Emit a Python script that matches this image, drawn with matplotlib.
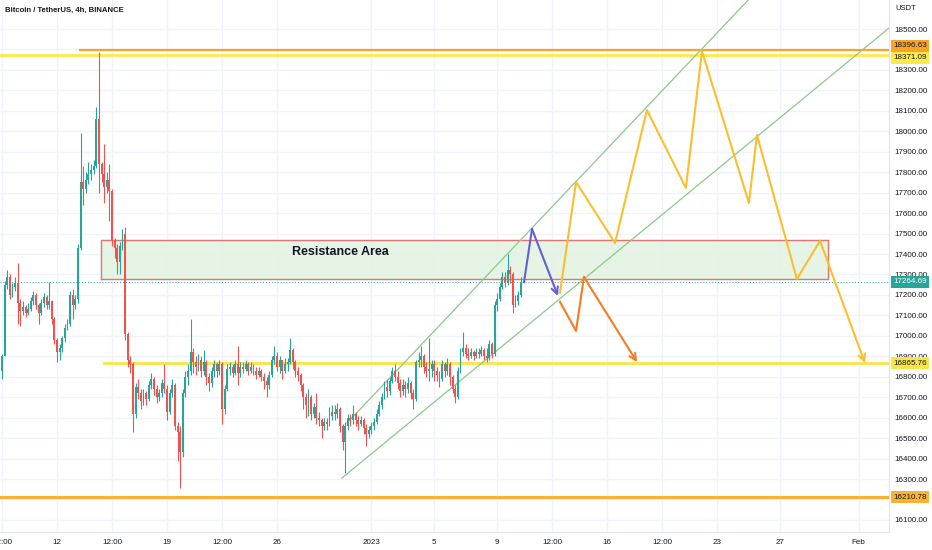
import numpy as np
import matplotlib.pyplot as plt
from matplotlib.transforms import blended_transform_factory

plt.rcParams['font.family'] = ['Liberation Sans', 'DejaVu Sans']

# ================= DATA ================= #
# time axis in days since 2022-12-01 00:00, one candle every 4h
FIRST_CANDLE = 7.5          # Dec 8 12:00
CANDLE_STEP = 4 / 24

first_open = 16830
closes = [16900, 17250, 17290, 17200, 17240, 17260, 17160, 17120, 17140, 17110,
          17130, 17170, 17200, 17150, 17110, 17160, 17190, 17150, 17170, 17080,
          16980, 16920, 16940, 16990, 17040, 17060, 17200, 17150, 17180, 17430,
          17750, 17720, 17760, 17790, 17810, 17830, 18060, 17840, 17790, 17730,
          17760, 17710, 17470, 17430, 17360, 17440, 17500, 17010, 16880, 16860,
          16620, 16750, 16720, 16680, 16720, 16690, 16760, 16790, 16740, 16700,
          16720, 16770, 16740, 16630, 16720, 16760, 16560, 16530, 16430, 16720,
          16800, 16830, 16920, 16870, 16850, 16880, 16830, 16870, 16800, 16770,
          16830, 16860, 16830, 16860, 16640, 16740, 16840, 16850, 16820, 16860,
          16820, 16850, 16840, 16860, 16830, 16850, 16830, 16810, 16830, 16800,
          16780, 16760, 16810, 16880, 16900, 16850, 16880, 16830, 16860, 16870,
          16930, 16870, 16830, 16810, 16760, 16700, 16660, 16700, 16620, 16650,
          16600, 16590, 16560, 16580, 16570, 16610, 16630, 16620, 16640, 16560,
          16480, 16560, 16600, 16590, 16620, 16590, 16570, 16590, 16550, 16520,
          16540, 16560, 16580, 16620, 16660, 16700, 16750, 16730, 16780, 16830,
          16800, 16770, 16730, 16760, 16740, 16770, 16720, 16690, 16870, 16880,
          16900, 16850, 16830, 16840, 16860, 16830, 16810, 16790, 16860, 16830,
          16860, 16800, 16740, 16700, 16830, 16920, 16940, 16910, 16900, 16920,
          16900, 16920, 16910, 16930, 16900, 16890, 16960, 16910, 17150, 17180,
          17240, 17290, 17260, 17320, 17300, 17150, 17170, 17200, 17265]
highs = [16910, 17270, 17320, 17300, 17260, 17290, 17355, 17180, 17170, 17150,
         17160, 17190, 17220, 17210, 17160, 17180, 17210, 17200, 17265, 17175,
         17090, 16990, 16960, 17000, 17060, 17080, 17220, 17230, 17200, 17450,
         17990, 17830, 17800, 17850, 17840, 17860, 18120, 18390, 17850, 17940,
         17800, 17840, 17720, 17480, 17450, 17460, 17520, 17530, 17020, 16900,
         16870, 16770, 16790, 16740, 16740, 16730, 16780, 16820, 16800, 16760,
         16740, 16790, 16860, 16760, 16740, 16790, 16770, 16580, 16560, 16740,
         16830, 16860, 17080, 16940, 16900, 16910, 16900, 16930, 16880, 16820,
         16850, 16880, 16870, 16880, 16870, 16760, 16860, 16870, 16860, 16880,
         16950, 16870, 16870, 16880, 16870, 16870, 16860, 16850, 16850, 16840,
         16820, 16800, 16830, 16900, 16950, 16920, 16900, 16880, 16890, 16890,
         16990, 16940, 16880, 16850, 16820, 16770, 16720, 16740, 16710, 16670,
         16720, 16630, 16600, 16600, 16600, 16650, 16660, 16660, 16670, 16650,
         16570, 16580, 16620, 16620, 16660, 16630, 16610, 16610, 16600, 16570,
         16560, 16580, 16600, 16640, 16680, 16720, 16780, 16790, 16800, 16850,
         16860, 16830, 16790, 16790, 16780, 16800, 16780, 16740, 16880, 16920,
         16950, 16910, 16870, 16990, 16880, 16880, 16850, 16830, 16880, 16870,
         16890, 16870, 16810, 16760, 16850, 16940, 17020, 16960, 16940, 16940,
         16930, 16940, 16940, 16950, 16940, 16940, 16980, 16970, 17170, 17210,
         17260, 17310, 17310, 17400, 17340, 17310, 17200, 17220, 17290]
lows = [16790, 16900, 17230, 17180, 17190, 17220, 17060, 17050, 17100, 17090,
        17100, 17120, 17150, 17130, 17060, 17100, 17140, 17130, 17130, 17060,
        16960, 16870, 16880, 16920, 16970, 17030, 17050, 17080, 17130, 17160,
        17420, 17640, 17700, 17740, 17760, 17790, 17820, 17700, 17750, 17650,
        17700, 17560, 17440, 17380, 17300, 17300, 17420, 16980, 16850, 16820,
        16530, 16600, 16690, 16640, 16660, 16660, 16680, 16740, 16710, 16670,
        16680, 16700, 16720, 16590, 16620, 16700, 16540, 16390, 16256, 16410,
        16700, 16760, 16810, 16820, 16810, 16830, 16800, 16810, 16760, 16730,
        16750, 16800, 16800, 16810, 16570, 16620, 16730, 16810, 16800, 16810,
        16760, 16800, 16820, 16830, 16810, 16820, 16810, 16790, 16800, 16780,
        16740, 16700, 16740, 16800, 16860, 16830, 16820, 16790, 16820, 16830,
        16860, 16840, 16800, 16780, 16730, 16640, 16600, 16610, 16590, 16600,
        16570, 16560, 16500, 16540, 16540, 16560, 16590, 16590, 16600, 16530,
        16440, 16330, 16540, 16560, 16570, 16560, 16540, 16560, 16520, 16460,
        16500, 16520, 16540, 16570, 16610, 16640, 16690, 16700, 16710, 16770,
        16780, 16740, 16700, 16710, 16700, 16720, 16690, 16640, 16680, 16850,
        16850, 16820, 16800, 16780, 16800, 16780, 16780, 16750, 16780, 16800,
        16810, 16760, 16720, 16670, 16690, 16820, 16900, 16890, 16880, 16890,
        16880, 16890, 16890, 16900, 16880, 16870, 16880, 16890, 16900, 17120,
        17170, 17230, 17240, 17250, 17260, 17110, 17140, 17150, 17190]

# horizontal levels
level_orange_top = 18396.63
level_yellow_top = 18371.09
level_yellow_mid = 16865.76
level_orange_low = 16210.78
last_price = 17264.69

# resistance box
box_days = [13.8, 60.05]
box_prices = [17278, 17469]
box_label = "Resistance Area"

# channel lines
lower_days = [29.13, 63.93]
lower_prices = [16305, 18505]
upper_days = [29.45, 56.0]
upper_prices = [16574, 18725]

# projected paths
yellow_days = [43.0, 44.02, 46.5, 48.53, 51.01, 52.03, 55.02, 55.53, 58.07, 59.54, 62.4]
yellow_prices = [17210, 17752, 17454, 18104, 17723, 18392, 17650, 17982, 17278, 17464, 16867]
purple_days = [40.71, 41.22, 42.87]
purple_prices = [17263, 17522, 17195]
orange_days = [43.0, 44.02, 44.52, 47.9]
orange_prices = [17166, 17024, 17288, 16872]

tick_days = [7.5, 11, 14.5, 18, 21.5, 25, 31, 35, 39, 42.5, 46, 49.5, 53, 57, 62]
tick_labels = ["12:00", "12", "12:00", "19", "12:00", "26", "2023", "5", "9",
               "12:00", "16", "12:00", "23", "27", "Feb"]
price_ticks = np.arange(16100, 18501, 100)
hidden_price_labels = [16200, 18400]   # covered by the level tags

# ================= PLOT ================= #
UP = "#26a69a"
DOWN = "#ef5350"
TXT = "#131722"
GRID = "#f0f3fa"

fig = plt.figure(figsize=(9.32, 5.5), dpi=100)
ax = fig.add_axes([0, 18 / 550, 889 / 932, 532 / 550])
ax.set_xlim(7.374, 63.93)
ax.set_ylim(16041, 18642)

# grid
for d in tick_days:
    ax.axvline(d, color=GRID, lw=1, zorder=0)
for p in price_ticks:
    ax.axhline(p, color=GRID, lw=1, zorder=0)

# candles
c = np.array(closes, dtype=float)
o = np.concatenate([[first_open], c[:-1]])
h = np.array(highs, dtype=float)
l = np.array(lows, dtype=float)
t = FIRST_CANDLE + CANDLE_STEP * np.arange(len(c))
col = np.where(c >= o, UP, DOWN)
ax.vlines(t, l, h, colors=col, lw=0.8, zorder=3)
body = np.maximum(np.abs(c - o), 4)
ax.bar(t, body, bottom=np.minimum(o, c), width=0.12, color=col, lw=0, zorder=3)

# resistance box
ax.fill_between(box_days, box_prices[0], box_prices[1], color="#e3f3e3", alpha=0.9, zorder=1)
ax.plot([box_days[0], box_days[1], box_days[1], box_days[0], box_days[0]],
        [box_prices[0], box_prices[0], box_prices[1], box_prices[1], box_prices[0]],
        color="#e57373", lw=1, zorder=2)
ax.text(29.0, 17410, box_label, fontsize=9, color=TXT, weight="bold",
        ha="center", va="center", zorder=4)

# horizontal levels
ax.plot([12.46, 63.93], [level_orange_top] * 2, color="#f7a428", lw=1.6, zorder=2)
ax.axhline(level_yellow_top, color="#fde94a", lw=2, zorder=2)
ax.plot([13.99, 63.93], [level_yellow_mid] * 2, color="#f9e547", lw=2, zorder=2)
ax.axhline(level_orange_low, color="#f9b233", lw=2.2, zorder=2)
ax.axhline(last_price, color=UP, lw=0.7, ls=(0, (1, 2)), zorder=2)

# channel
ax.plot(lower_days, lower_prices, color="#8cc98a", lw=0.9, zorder=2)
ax.plot(upper_days, upper_prices, color="#8cc98a", lw=0.9, zorder=2)

# projections
def path(days, prices, color):
    ax.plot(days[:-1], prices[:-1], color=color, lw=1.5, zorder=5)
    ax.annotate("", xy=(days[-1], prices[-1]), xytext=(days[-2], prices[-2]),
                arrowprops=dict(arrowstyle="->", color=color, lw=1.5,
                                shrinkA=0, shrinkB=0, mutation_scale=12), zorder=5)

path(yellow_days, yellow_prices, "#fbbf2e")
path(purple_days, purple_prices, "#6161d6")
path(orange_days, orange_prices, "#f57c1f")

# axes styling
for s in ["top", "left"]:
    ax.spines[s].set_visible(False)
ax.spines["right"].set_color("#e0e3eb")
ax.spines["bottom"].set_color("#e0e3eb")
ax.yaxis.tick_right()
ax.set_yticks(price_ticks)
ax.set_yticklabels(["" if p in hidden_price_labels else f"{p:.2f}" for p in price_ticks])
ax.set_xticks(tick_days)
ax.set_xticklabels(tick_labels)
ax.tick_params(axis="both", length=0, labelsize=5.8, colors=TXT)
ax.tick_params(axis="y", pad=4)
ax.tick_params(axis="x", pad=5)

# price tags on right scale (the two top tags are pushed apart like the scale does)
tr = blended_transform_factory(ax.transAxes, ax.transData)
tags = [(level_orange_top, 18419, "#f7a428", TXT),
        (level_yellow_top, 18360, "#fde94a", TXT),
        (last_price, last_price, UP, "white"),
        (level_yellow_mid, level_yellow_mid, "#f9e547", TXT),
        (level_orange_low, level_orange_low, "#f9b233", TXT)]
for p, y_show, bg, fg in tags:
    ax.text(1.0 + 4 / 889, y_show, f"{p:.2f}", transform=tr, fontsize=5.8, color=fg,
            ha="left", va="center", clip_on=False, zorder=6,
            bbox=dict(boxstyle="square,pad=0.3", fc=bg, ec="none"))

fig.text(5 / 932, 1 - 10 / 550, "Bitcoin / TetherUS, 4h, BINANCE", fontsize=5.6,
         color=TXT, weight="bold", va="center", ha="left")
fig.text(895 / 932, 1 - 8 / 550, "USDT", fontsize=5.5, color=TXT, va="center", ha="left")

plt.savefig("out.png", dpi=100)
